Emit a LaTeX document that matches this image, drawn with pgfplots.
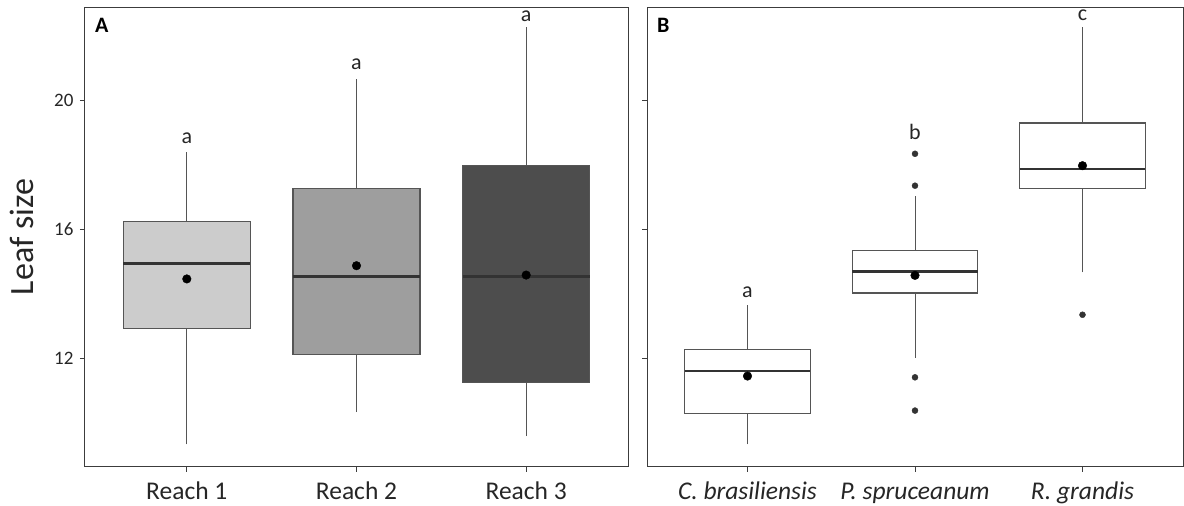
\documentclass[border=0pt]{standalone}
\usepackage{fontspec}
\setmainfont{Carlito}
\usepackage{pgfplots}
\pgfplotsset{compat=1.18}
\definecolor{rA}{HTML}{CCCCCC}
\definecolor{rB}{HTML}{9E9E9E}
\definecolor{rC}{HTML}{4D4D4D}
\definecolor{frame}{HTML}{3C3C3C}
\definecolor{bord}{HTML}{555555}
\definecolor{med}{HTML}{333333}
\pgfplotsset{
  panel/.style={
    scale only axis, width=543pt, height=459.4pt, anchor=south west,
    xmin=0.4, xmax=3.6, ymin=8.65, ymax=22.89,
    xtick={1,2,3}, ytick={12,16,20},
    tick align=outside, major tick length=5pt,
    axis line style={draw=frame, line width=1pt},
    every tick/.style={draw=frame, line width=0.8pt},
    xtick pos=bottom, ytick pos=left,
    /pgf/number format/assume math mode=true,
    yticklabel style={font=\fontsize{19}{22}\selectfont, text=black!85, xshift=-3pt},
    xticklabel style={font=\fontsize{25.5}{28}\selectfont, text=black!85, yshift=-6pt, text height=18.5pt, text depth=5pt},
    clip=false,
  },
}
% box: left, centre, right, lower whisker, Q1, median, Q3, upper whisker, fill
\newcommand\bxp[9]{%
  \addplot[draw=bord, line width=1pt, mark=none] coordinates {(#2,#4) (#2,#5)};
  \addplot[draw=bord, line width=1pt, mark=none] coordinates {(#2,#7) (#2,#8)};
  \addplot[draw=bord, fill=#9, line width=1.3pt, mark=none] coordinates {(#1,#5) (#3,#5) (#3,#7) (#1,#7)} --cycle;
  \addplot[draw=med, line width=2.4pt, mark=none] coordinates {(#1,#6) (#3,#6)};
}
\begin{document}
\begin{tikzpicture}
\useasboundingbox (0,0) rectangle (1184pt,506pt);
\begin{axis}[panel, at={(85pt,39.3pt)},
  xticklabels={Reach 1, Reach 2, Reach 3},
  ylabel={Leaf size},
  ylabel style={font=\fontsize{34}{38}\selectfont, text=black!85, at={(axis description cs:-0.095,0.5)}, anchor=base, rotate=0},
]
\bxp{0.625}{1}{1.375}{9.34}{12.94}{14.95}{16.25}{18.40}{rA}
\bxp{1.625}{2}{2.375}{10.34}{12.12}{14.54}{17.27}{20.66}{rB}
\bxp{2.625}{3}{3.375}{9.60}{11.26}{14.54}{17.98}{22.27}{rC}
\addplot[only marks, mark=*, mark size=4.3pt, black] coordinates {(1,14.47) (2,14.88) (3,14.59)};
\node[anchor=base, font=\fontsize{22}{24}\selectfont, text=black!85] at (axis cs:1,18.68) {a};
\node[anchor=base, font=\fontsize{22}{24}\selectfont, text=black!85] at (axis cs:2,20.95) {a};
\node[anchor=base, font=\fontsize{22}{24}\selectfont, text=black!85] at (axis cs:3,22.44) {a};
\node[anchor=base west, inner sep=0pt, font=\bfseries\fontsize{22}{24}\selectfont] at (rel axis cs:0,1) [xshift=10pt, yshift=-25.7pt] {A};
\end{axis}
\begin{axis}[panel, at={(647pt,39.3pt)}, width=536pt,
  xticklabels={\textit{C. brasiliensis}, \textit{P. spruceanum}, \textit{R. grandis}},
  yticklabels={},
]
\bxp{0.625}{1}{1.375}{9.34}{10.30}{11.62}{12.29}{13.65}{white}
\bxp{1.625}{2}{2.375}{12.03}{14.03}{14.70}{15.35}{17.04}{white}
\bxp{2.625}{3}{3.375}{14.67}{17.28}{17.87}{19.30}{22.27}{white}
\addplot[only marks, mark=*, mark size=3pt, color=med] coordinates {(2,18.35) (2,17.36) (2,11.42) (2,10.39) (3,13.36)};
\addplot[only marks, mark=*, mark size=4.3pt, black] coordinates {(1,11.46) (2,14.58) (3,17.98)};
\node[anchor=base, font=\fontsize{22}{24}\selectfont, text=black!85] at (axis cs:1,13.89) {a};
\node[anchor=base, font=\fontsize{22}{24}\selectfont, text=black!85] at (axis cs:2,18.80) {b};
\node[anchor=base, font=\fontsize{22}{24}\selectfont, text=black!85] at (axis cs:3,22.48) {c};
\node[anchor=base west, inner sep=0pt, font=\bfseries\fontsize{22}{24}\selectfont] at (rel axis cs:0,1) [xshift=10pt, yshift=-25.7pt] {B};
\end{axis}
\end{tikzpicture}
\end{document}
